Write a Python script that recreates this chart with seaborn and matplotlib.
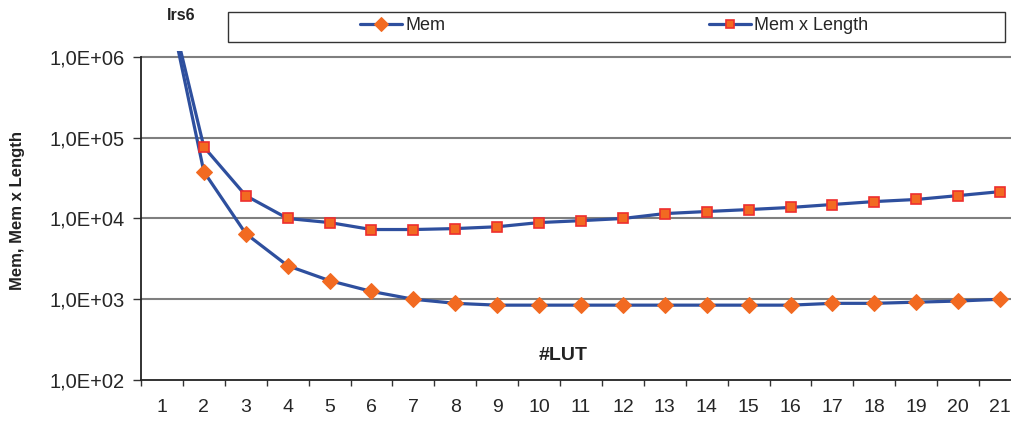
import matplotlib
matplotlib.use("Agg")
import matplotlib.pyplot as plt
from matplotlib.patches import Rectangle
import seaborn as sns
import numpy as np

# data (log scale)
lut = list(range(1, 22))
mem = [1.1e7, 3.8e4, 6.5e3, 2.6e3, 1.7e3, 1.25e3, 1.0e3, 890, 845, 845, 845,
       845, 845, 845, 845, 845, 890, 890, 920, 950, 1000]
mem_x_len = [1.1e7, 7.7e4, 1.92e4, 1.0e4, 8.9e3, 7.3e3, 7.3e3, 7.5e3, 7.9e3,
             8.9e3, 9.4e3, 1.0e4, 1.15e4, 1.22e4, 1.29e4, 1.37e4, 1.49e4,
             1.62e4, 1.72e4, 1.92e4, 2.15e4]
ytick_vals = [1e2, 1e3, 1e4, 1e5, 1e6]
ytick_labels = ["1,0E+02", "1,0E+03", "1,0E+04", "1,0E+05", "1,0E+06"]

sns.set_style("white")
plt.rcParams["font.family"] = ["Liberation Sans", "DejaVu Sans"]

line_col = "#2E4F9E"
orange = "#F26A21"

fig = plt.figure(figsize=(10.12, 4.21), dpi=100)
ax = fig.add_axes([141 / 1012, 1 - 380 / 421, 880 / 1012, (380 - 50.5) / 421])

sns.lineplot(x=lut, y=mem, ax=ax, color=line_col, lw=2.3, marker="D",
             markersize=8.5, markerfacecolor=orange, markeredgecolor=orange,
             label="Mem")
sns.lineplot(x=lut, y=mem_x_len, ax=ax, color=line_col, lw=2.3, marker="s",
             markersize=7, markerfacecolor=orange, markeredgecolor="#EE2E2E",
             markeredgewidth=1.2, label="Mem x Length")

ax.set_yscale("log")
ax.set_ylim(1e2, 1e6 * 10 ** (6.5 / 81))
ax.set_xlim(0.5, 21.5)

# horizontal grid
for v in ytick_vals[1:]:
    ax.axhline(v, color="#7F7F7F", lw=1.5, zorder=0)

ax.set_yticks(ytick_vals)
ax.set_yticklabels(ytick_labels)
ax.yaxis.set_minor_locator(matplotlib.ticker.NullLocator())
ax.tick_params(axis="y", which="major", direction="out", length=6, width=1,
               color="#333333", labelsize=14.5, pad=6, left=True)

ax.set_xticks(lut)
ax.set_xticklabels([str(v) for v in lut])
ax.set_xticks(np.arange(0.5, 22, 1), minor=True)
ax.tick_params(axis="x", which="major", length=0, labelsize=14, pad=14)
ax.tick_params(axis="x", which="minor", direction="out", length=4.5,
               width=1, color="#333333", bottom=True)

for s in ["top", "right"]:
    ax.spines[s].set_visible(False)
ax.spines["left"].set_bounds(1e2, 1e6)
ax.spines["left"].set_color("#222222")
ax.spines["bottom"].set_color("#222222")
ax.spines["left"].set_linewidth(1.3)
ax.spines["bottom"].set_linewidth(1.3)
ax.set_xlabel("")
ax.set_ylabel("")

ax.text(563 / 1012, 1 - 355 / 421, "#LUT", transform=fig.transFigure,
        ha="center", va="center", fontsize=14, fontweight="bold",
        color="#222222")
fig.text(181 / 1012, 1 - 16 / 421, "lrs6", ha="center", va="center",
         fontsize=11.5, fontweight="bold", color="#222222")
fig.text(18 / 1012, 1 - 210 / 421, "Mem, Mem x Length", rotation=90,
         ha="center", va="center", fontsize=12, fontweight="bold",
         color="#222222")

# legend with its own box
handles, labels = ax.get_legend_handles_labels()
ax.get_legend().remove()
fig.patches.append(Rectangle((228 / 1012, 1 - 42 / 421), 777 / 1012, 30 / 421,
                             transform=fig.transFigure, fill=False,
                             edgecolor="#333333", lw=1))
fig.legend(handles, labels, ncol=2, frameon=False, loc="center",
           bbox_to_anchor=(614.5 / 1012, 1 - 26 / 421), fontsize=13,
           handlelength=2.3, handletextpad=0.2, columnspacing=14.6,
           markerscale=0.85)

fig.savefig("out.png", dpi=100)
